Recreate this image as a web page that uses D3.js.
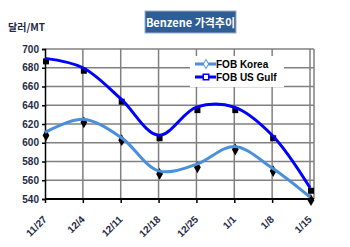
<!DOCTYPE html>
<html>
<head>
<meta charset="utf-8">
<script src="https://cdn.jsdelivr.net/npm/d3@7"></script>
<style>
  body { margin: 0; background: #fff; }
  svg { display: block; }
  .grid line { stroke: #808080; stroke-width: 1.5; }
  .tick text { font-family: "Liberation Sans", Arial, sans-serif; font-weight: bold; font-size: 10px; fill: #1f2a44; }
</style>
</head>
<body>
<svg width="350" height="247"></svg>
<script>
var categories = ["11/27", "12/4", "12/11", "12/18", "12/25", "1/1", "1/8", "1/15"],
    korea = [611, 625, 606, 570, 577, 596, 573, 542],
    usGulf = [690, 680, 647, 608, 638, 638, 608, 552],
    yTicks = [540, 560, 580, 600, 620, 640, 660, 680, 700];

var series = [
  { name: "FOB Korea", values: korea, color: "#4a8fdc", marker: "diamond" },
  { name: "FOB US Gulf", values: usGulf, color: "#0000ff", marker: "square" }
];

var svg = d3.select("svg"),
    plotLeft = 45, plotRight = 310, plotTop = 49, plotBottom = 199;

var x = d3.scalePoint().domain(categories).range([plotLeft, plotRight]),
    y = d3.scaleLinear().domain([540, 700]).range([plotBottom, plotTop]);

// grid
var grid = svg.append("g").attr("class", "grid");
grid.selectAll("line.h")
  .data(yTicks)
  .enter().append("line")
  .attr("x1", plotLeft).attr("x2", plotRight + 4)
  .attr("y1", function(d) { return y(d); })
  .attr("y2", function(d) { return y(d); });
grid.selectAll("line.v")
  .data(categories.slice(1))
  .enter().append("line")
  .attr("x1", function(d) { return x(d); })
  .attr("x2", function(d) { return x(d); })
  .attr("y1", plotTop).attr("y2", plotBottom);
grid.append("line")
  .attr("x1", plotRight + 4).attr("x2", plotRight + 4)
  .attr("y1", plotTop).attr("y2", plotBottom);

// axes
var yAxis = d3.axisLeft(y).tickValues(yTicks).tickSize(3).tickPadding(3);
svg.append("g")
  .attr("transform", "translate(" + plotLeft + ",0)")
  .call(yAxis)
  .call(function(g) { g.selectAll("path, line").attr("stroke", "#000").attr("stroke-width", 1.5); });

var xAxis = d3.axisBottom(x).tickSize(4).tickSizeOuter(0);
svg.append("g")
  .attr("transform", "translate(0," + plotBottom + ")")
  .call(xAxis)
  .call(function(g) {
    g.select(".domain").attr("d", "M" + plotLeft + ",0H" + (plotRight + 4)).attr("stroke", "#000").attr("stroke-width", 2);
    g.selectAll(".tick line").attr("stroke", "#000").attr("stroke-width", 1.5);
    g.selectAll(".tick text")
      .attr("text-anchor", "end")
      .attr("dy", null)
      .attr("y", 0)
      .attr("fill", "#000")
      .attr("font-size", "9.5px")
      .attr("transform", "translate(2,21) rotate(-45)");
  });

// lines
var line = d3.line()
  .x(function(d, i) { return x(categories[i]); })
  .y(function(d) { return y(d); })
  .curve(d3.curveCatmullRom.alpha(0.5));

var symbols = { diamond: d3.symbol().type(d3.symbolDiamond).size(40),
                square: d3.symbol().type(d3.symbolSquare).size(36) };

series.forEach(function(s) {
  // black marker shadows
  svg.append("g").selectAll("path")
    .data(s.values)
    .enter().append("path")
    .attr("d", symbols[s.marker])
    .attr("fill", "#000")
    .attr("transform", function(d, i) { return "translate(" + (x(categories[i]) + 1) + "," + (y(d) + 3) + ")"; });
});

series.forEach(function(s) {
  svg.append("path")
    .datum(s.values)
    .attr("d", line)
    .attr("fill", "none")
    .attr("stroke", s.color)
    .attr("stroke-width", 3);
});

// legend
var legend = svg.append("g").attr("transform", "translate(190,56)");
legend.append("rect").attr("width", 94).attr("height", 31).attr("fill", "#fff");
series.forEach(function(s, i) {
  var g = legend.append("g").attr("transform", "translate(0," + (8 + i * 13) + ")");
  g.append("line").attr("x1", 5).attr("x2", 26).attr("stroke", s.color).attr("stroke-width", 3);
  g.append("path")
    .attr("d", s.marker === "diamond" ? d3.symbol().type(d3.symbolDiamond).size(24)() : d3.symbol().type(d3.symbolSquare).size(30)())
    .attr("transform", "translate(16,0)")
    .attr("fill", "#fff")
    .attr("stroke", s.color)
    .attr("stroke-width", s.marker === "diamond" ? 1 : 1.5);
  g.append("text")
    .attr("x", 26).attr("y", 4)
    .attr("font-family", "'Liberation Sans', Arial, sans-serif")
    .attr("font-weight", "bold")
    .attr("font-size", "10px")
    .attr("fill", "#000")
    .text(s.name);
});

// title
svg.append("rect")
  .attr("x", 145).attr("y", 11).attr("width", 91).attr("height", 22)
  .attr("fill", "#2f5d95").attr("stroke", "#9ab0cc").attr("stroke-width", 1);
svg.append("text")
  .attr("x", 190.5).attr("y", 26.5)
  .attr("text-anchor", "middle")
  .attr("font-family", "'Noto Sans CJK KR', 'Liberation Sans', sans-serif")
  .attr("font-weight", "bold")
  .attr("font-size", "11px")
  .attr("fill", "#fff")
  .text("Benzene 가격추이");

// unit label
svg.append("text")
  .attr("x", 8).attr("y", 31)
  .attr("font-family", "'Noto Sans CJK KR', 'Liberation Sans', sans-serif")
  .attr("font-weight", "bold")
  .attr("font-size", "10px")
  .attr("fill", "#1f2a44")
  .text("달러/MT");
</script>
</body>
</html>
